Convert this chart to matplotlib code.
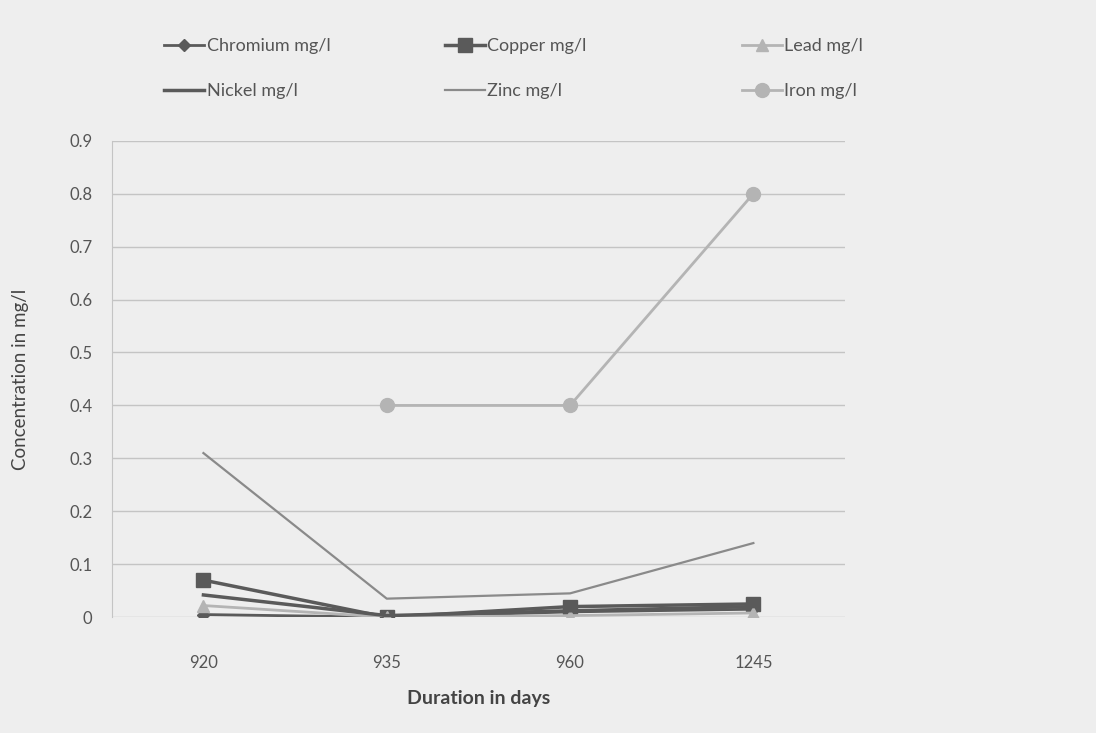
import numpy as np
import matplotlib.pyplot as plt

plt.rcParams["font.family"] = ["Lato", "DejaVu Sans"]

# Sampling points (days) and metal concentrations in mg/l
days = ["920", "935", "960", "1245"]
chromium = [0.005, 0.0, 0.01, 0.015]
copper = [0.07, 0.0, 0.02, 0.025]
lead = [0.022, 0.0, 0.003, 0.008]
nickel = [0.042, 0.003, 0.012, 0.02]
zinc = [0.31, 0.035, 0.045, 0.14]
iron = [np.nan, 0.4, 0.4, 0.8]

DARK = "#5a5a5a"
MID = "#8a8a8a"
LIGHT = "#b4b4b4"
TEXT = "#555555"

fig = plt.figure(figsize=(10.96, 7.33), dpi=100, facecolor="#eeeeee")
ax = fig.add_axes([0.102, 0.158, 0.669, 0.650])
ax.set_facecolor("none")

x = np.arange(len(days))

series = [
    ("Chromium mg/l", chromium, dict(color=DARK, lw=2.0, marker="D", ms=6)),
    ("Copper mg/l", copper, dict(color=DARK, lw=2.5, marker="s", ms=10)),
    ("Lead mg/l", lead, dict(color=LIGHT, lw=2.0, marker="^", ms=8)),
    ("Nickel mg/l", nickel, dict(color=DARK, lw=2.5, marker=None)),
    ("Zinc mg/l", zinc, dict(color=MID, lw=1.6, marker=None)),
    ("Iron mg/l", iron, dict(color=LIGHT, lw=2.0, marker="o", ms=10)),
]

handles = {}
for name, vals, style in series:
    (ln,) = ax.plot(x, vals, label=name, zorder=3, **style)
    handles[name] = ln

ax.set_xlim(-0.5, len(days) - 0.5)
ax.set_ylim(0, 0.9)
ax.set_yticks(np.arange(0, 0.91, 0.1))
ax.set_yticklabels(["0"] + [f"{v:.1f}" for v in np.arange(0.1, 0.91, 0.1)])
ax.set_xticks(x)
ax.set_xticklabels(days)

ax.yaxis.grid(True, color="#c4c4c4", lw=1.0)
ax.set_axisbelow(True)
for side in ["top", "right", "bottom"]:
    ax.spines[side].set_visible(False)
ax.spines["left"].set_color("#c4c4c4")
ax.tick_params(length=0, labelsize=12, colors=TEXT, pad=14)
ax.tick_params(axis="x", pad=27)

ax.set_xlabel("Duration in days", fontsize=14, color="#444444",
              fontweight="bold", labelpad=14)
ax.set_ylabel("Concentration in mg/l", fontsize=13.5, color="#444444", labelpad=29)

# one legend per column so the columns sit at fixed positions
columns = [
    (0.135, ["Chromium mg/l", "Nickel mg/l"]),
    (0.391, ["Copper mg/l", "Zinc mg/l"]),
    (0.662, ["Lead mg/l", "Iron mg/l"]),
]
for xpos, names in columns:
    leg = fig.legend([handles[n] for n in names], names, ncol=1,
                     loc="upper left", bbox_to_anchor=(xpos, 0.97),
                     frameon=False, fontsize=13, labelcolor=TEXT,
                     handlelength=2.2, handletextpad=0.15,
                     labelspacing=1.6)

fig.savefig("out.png", dpi=100, facecolor=fig.get_facecolor())
